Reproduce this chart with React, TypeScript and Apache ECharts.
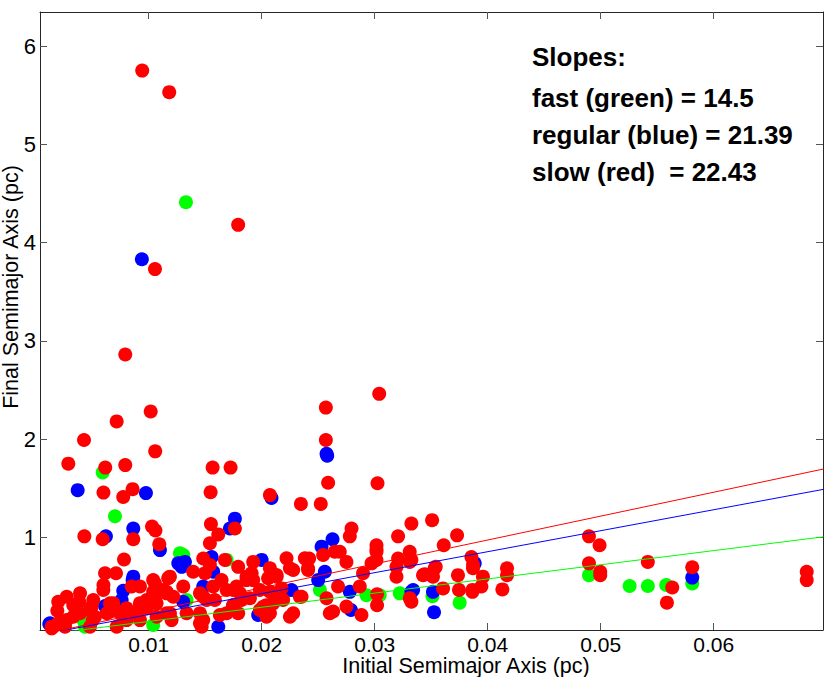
import React, { useEffect, useRef } from "react";
import * as echarts from "echarts";

const FONT = "'Liberation Sans', Arial, Helvetica, sans-serif";

const xTicks = [0.01, 0.02, 0.03, 0.04, 0.05, 0.06];
const yTicks = [1, 2, 3, 4, 5, 6];
const xRange = [0.000386, 0.06967];
const yRange = [0.057, 6.346];

const slopeTexts = [
  "Slopes:",
  "fast (green) = 14.5",
  "regular (blue) = 21.39",
  "slow (red)\u00a0 = 22.43",
];

const xAxisName = "Initial Semimajor Axis (pc)";
const yAxisName = "Final Semimajor Axis (pc)";

const fitX = [0, 0.0697];
const fitGreen = [0, 1.005];
const fitBlue = [0, 1.488];
const fitRed = [0, 1.695];

const greenPts = [
  [0.0133, 4.41], [0.00593, 1.66], [0.00702, 1.215], [0.01277, 0.837], [0.01306, 0.82],
  [0.00422, 0.158], [0.0104, 0.108], [0.00437, 0.09], [0.0219, 0.413], [0.02515, 0.465],
  [0.02928, 0.41], [0.03045, 0.41], [0.03222, 0.43], [0.03511, 0.40], [0.03752, 0.335],
  [0.04896, 0.615], [0.05256, 0.505], [0.05417, 0.505], [0.0558, 0.515], [0.0581, 0.53],
  [0.01336, 0.362], [0.0169, 0.77],
];

const bluePts = [
  [0.0094, 3.83], [0.02574, 1.85], [0.0258, 1.83], [0.00372, 1.48], [0.00976, 1.45],
  [0.02087, 1.40], [0.00622, 1.01], [0.00864, 1.09], [0.011, 0.87], [0.01763, 1.19],
  [0.01719, 1.09], [0.02627, 0.98], [0.0253, 0.905], [0.00858, 0.565], [0.00775, 0.457],
  [0.00761, 0.362], [0.00614, 0.30], [0.00121, 0.118], [0.00127, 0.125], [0.01262, 0.735],
  [0.01321, 0.75], [0.01306, 0.345], [0.01557, 0.80], [0.01571, 0.65], [0.01483, 0.50],
  [0.02, 0.77], [0.02264, 0.464], [0.01969, 0.21], [0.01616, 0.09], [0.02559, 0.65],
  [0.025, 0.565], [0.0278, 0.445], [0.0279, 0.26], [0.03325, 0.445], [0.03516, 0.445],
  [0.03525, 0.237], [0.03885, 0.735], [0.0581, 0.59], [0.00629, 0.294], [0.00864, 0.60],
  [0.01292, 0.70], [0.01748, 0.31], [0.0334, 0.464],
];

const redPts = [
  [0.00943, 5.75], [0.01182, 5.53], [0.01792, 4.18], [0.01056, 3.73], [0.00793, 2.86],
  [0.0304, 2.46], [0.01018, 2.28], [0.02568, 2.32], [0.00717, 2.18], [0.00428, 1.99],
  [0.02568, 1.99], [0.01058, 1.875], [0.00289, 1.75], [0.00616, 1.71], [0.00793, 1.735],
  [0.01566, 1.71], [0.01725, 1.71],
  [0.006, 1.455], [0.00775, 1.41], [0.00858, 1.49], [0.01548, 1.46], [0.02073, 1.43],
  [0.02347, 1.34], [0.02523, 1.34], [0.02588, 1.555], [0.03025, 1.55], [0.00431, 1.01],
  [0.00593, 0.98], [0.00864, 0.98], [0.0103, 1.11], [0.0106, 1.07], [0.01094, 0.93],
  [0.01551, 1.135], [0.01542, 0.94], [0.01616, 1.03], [0.01763, 1.09], [0.02795, 1.09],
  [0.0278, 1.01], [0.03207, 1.01], [0.03325, 1.14], [0.03016, 0.92], [0.03016, 0.88],
  [0.03508, 1.175], [0.03729, 1.02], [0.03611, 0.92], [0.03016, 0.853], [0.03016, 0.77],
  [0.02691, 0.853], [0.0275, 0.75], [0.0242, 0.785], [0.0241, 0.685], [0.02544, 0.82],
  [0.03207, 0.785], [0.0331, 0.853], [0.0331, 0.75], [0.03531, 0.685], [0.03516, 0.60],
  [0.03428, 0.615], [0.03737, 0.615], [0.03856, 0.80], [0.0387, 0.72], [0.03865, 0.465],
  [0.03746, 0.465], [0.02972, 0.735], [0.02897, 0.635], [0.03193, 0.60], [0.03193, 0.70],
  [0.02632, 0.245], [0.02883, 0.21], [0.03021, 0.31], [0.0275, 0.295], [0.0331, 0.38],
  [0.03605, 0.48], [0.02353, 0.395], [0.02574, 0.38], [0.02676, 0.50], [0.02868, 0.50],
  [0.03021, 0.42], [0.02603, 0.227],
  [0.04896, 1.01], [0.0499, 0.92], [0.04896, 0.735], [0.04996, 0.615], [0.04996, 0.65],
  [0.05417, 0.75], [0.05633, 0.49], [0.05586, 0.335], [0.0581, 0.695], [0.06823, 0.65],
  [0.06823, 0.565], [0.04171, 0.685], [0.04171, 0.615], [0.0413, 0.47], [0.03865, 0.445],
  [0.03958, 0.60], [0.03944, 0.50], [0.0387, 0.685], [0.03443, 0.625], [0.0354, 0.70],
  [0.03325, 0.77], [0.03325, 0.345],
  [0.00782, 0.775], [0.00614, 0.635], [0.00711, 0.635], [0.006, 0.515], [0.0085, 0.50],
  [0.01056, 0.53], [0.01173, 0.583], [0.0104, 0.445], [0.00192, 0.253], [0.00333, 0.31],
  [0.00386, 0.345], [0.00333, 0.192], [0.002, 0.125], [0.00142, 0.09], [0.0026, 0.09],
  [0.00481, 0.26], [0.00505, 0.158], [0.00658, 0.243], [0.00687, 0.328], [0.00805, 0.278],
  [0.00923, 0.328], [0.00982, 0.362], [0.01056, 0.362], [0.00775, 0.176], [0.00923, 0.158],
  [0.0107, 0.192], [0.00481, 0.09], [0.00717, 0.09], [0.01188, 0.227], [0.01159, 0.445],
  [0.00142, 0.074],
  [0.01483, 0.785], [0.01542, 0.718], [0.01675, 0.77], [0.01792, 0.70], [0.01925, 0.75],
  [0.01911, 0.635], [0.01394, 0.65], [0.01498, 0.635], [0.01645, 0.565], [0.01306, 0.50],
  [0.01571, 0.50], [0.01778, 0.50], [0.01866, 0.565], [0.02057, 0.583], [0.02132, 0.617],
  [0.0222, 0.786], [0.02279, 0.667], [0.02176, 0.48], [0.02073, 0.447], [0.0225, 0.192],
  [0.02073, 0.227], [0.01984, 0.26], [0.01792, 0.227], [0.0163, 0.21], [0.01483, 0.158],
  [0.01469, 0.09], [0.01218, 0.395], [0.01336, 0.227], [0.01203, 0.158], [0.01483, 0.395],
  [0.01822, 0.362], [0.01748, 0.31], [0.01896, 0.38], [0.02043, 0.31], [0.02132, 0.362],
  [0.02073, 0.685], [0.02382, 0.786], [0.02411, 0.667], [0.0225, 0.685], [0.02647, 0.853],
  [0.02132, 0.60],
  [0.00393, 0.43], [0.00275, 0.395], [0.002, 0.345], [0.00496, 0.294], [0.00658, 0.328],
  [0.00923, 0.294], [0.01159, 0.43], [0.01188, 0.60], [0.01454, 0.43], [0.01454, 0.125],
  [0.01586, 0.362], [0.0169, 0.464], [0.01807, 0.43], [0.01925, 0.565], [0.02013, 0.294],
  [0.0219, 0.362], [0.02279, 0.227], [0.02338, 0.395],
  [0.00157, 0.09], [0.00275, 0.158], [0.00393, 0.227], [0.00525, 0.192], [0.00629, 0.227],
  [0.00731, 0.243], [0.00805, 0.158], [0.00894, 0.227], [0.00982, 0.278], [0.0107, 0.328],
  [0.01159, 0.227], [0.00923, 0.50], [0.0104, 0.565], [0.01129, 0.464], [0.00599, 0.464],
  [0.0051, 0.362], [0.01454, 0.227], [0.01513, 0.362], [0.0169, 0.227], [0.01748, 0.464],
  [0.01866, 0.60], [0.01984, 0.464], [0.02043, 0.192], [0.02102, 0.328],
];

const AXIS_COLOR = "#262626";

function makeX(position: "bottom" | "top") {
  return {
    type: "value",
    position,
    min: xRange[0],
    max: xRange[1],
    axisLine: { show: true, onZero: false, lineStyle: { color: AXIS_COLOR, width: 1 } },
    axisTick: { show: true, inside: true, length: 7, customValues: xTicks, lineStyle: { color: "#555", width: 1 } },
    axisLabel: position === "bottom"
      ? { show: true, customValues: xTicks, color: "#000", fontSize: 21, lineHeight: 21, fontFamily: FONT, margin: 4 }
      : { show: false },
    splitLine: { show: false },
  };
}

function makeY(position: "left" | "right") {
  return {
    type: "value",
    position,
    min: yRange[0],
    max: yRange[1],
    axisLine: { show: true, onZero: false, lineStyle: { color: AXIS_COLOR, width: 1 } },
    axisTick: { show: true, inside: true, length: 7, customValues: yTicks, lineStyle: { color: "#555", width: 1 } },
    axisLabel: position === "left"
      ? { show: true, customValues: yTicks, color: "#000", fontSize: 22, fontFamily: FONT, margin: 4 }
      : { show: false },
    splitLine: { show: false },
  };
}

function scatter(name: string, data: number[][], color: string) {
  return {
    name,
    type: "scatter",
    data,
    symbol: "circle",
    symbolSize: 14,
    itemStyle: { color, opacity: 1 },
    silent: true,
  };
}

function fitLine(name: string, ys: number[], color: string) {
  return {
    name,
    type: "line",
    data: fitX.map((x, i) => [x, ys[i]]),
    symbol: "none",
    clip: true,
    lineStyle: { color, width: 1 },
    silent: true,
  };
}

export default function App() {
  const ref = useRef<HTMLDivElement>(null);
  useEffect(() => {
    if (!ref.current) return;
    const chart = echarts.init(ref.current, null, { renderer: "svg" });
    const lineYs = [57, 98, 135, 172];
    chart.setOption({
      animation: false,
      backgroundColor: "#fff",
      grid: { left: 40, right: 8, top: 12, bottom: 47, containLabel: false },
      xAxis: [makeX("bottom"), makeX("top")],
      yAxis: [makeY("left"), makeY("right")],
      series: [
        scatter("fast", greenPts, "#00ff00"),
        scatter("regular", bluePts, "#0000ff"),
        scatter("slow", redPts, "#ff0000"),
        fitLine("fast fit", fitGreen, "#00ff00"),
        fitLine("regular fit", fitBlue, "#0000ff"),
        fitLine("slow fit", fitRed, "#ff0000"),
      ],
      graphic: [
        ...slopeTexts.map((t, i) => ({
          type: "text",
          x: 532,
          y: lineYs[i],
          z: 100,
          style: { text: t, fill: "#000", font: `bold 26px ${FONT}`, textVerticalAlign: "middle" },
        })),
        {
          type: "text",
          x: 466,
          y: 666,
          z: 100,
          style: { text: xAxisName, fill: "#000", font: `21.5px ${FONT}`, lineHeight: 20, textAlign: "center", textVerticalAlign: "middle" },
        },
        {
          type: "text",
          x: 11,
          y: 287,
          rotation: Math.PI / 2,
          z: 100,
          style: { text: yAxisName, fill: "#000", font: `21.5px ${FONT}`, lineHeight: 20, textAlign: "center", textVerticalAlign: "middle" },
        },
      ],
    });
    return () => chart.dispose();
  }, []);
  return (
    <div
      ref={ref}
      style={{ position: "absolute", left: 0, top: 0, width: 831, height: 677 }}
    />
  );
}
